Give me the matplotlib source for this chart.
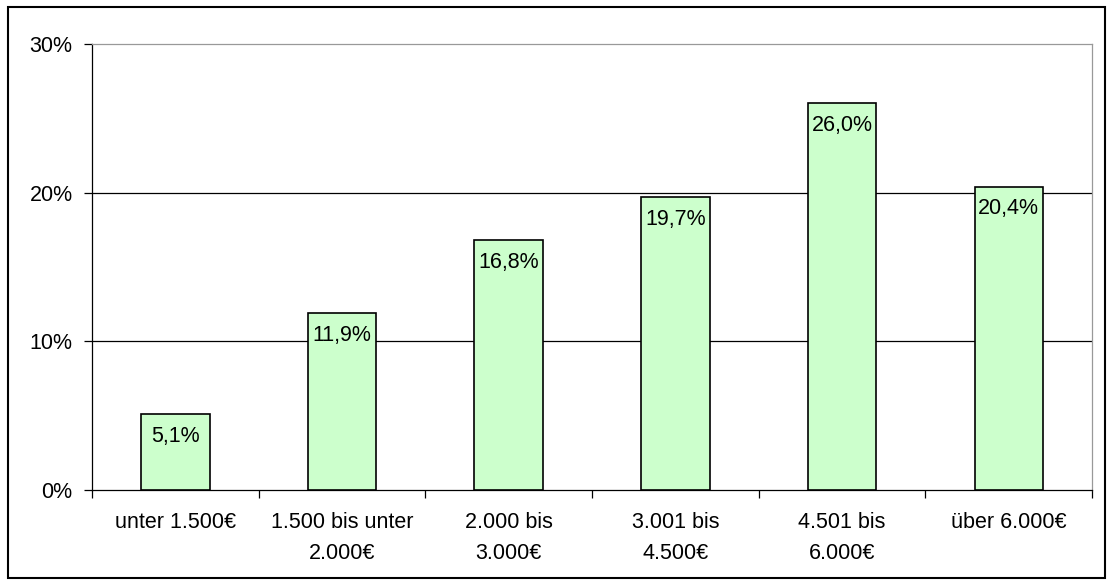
import matplotlib.pyplot as plt
from matplotlib.patches import Rectangle
import numpy as np

categories = ["unter 1.500€", "1.500 bis unter\n2.000€", "2.000 bis\n3.000€",
              "3.001 bis\n4.500€", "4.501 bis\n6.000€", "über 6.000€"]
values = [5.1, 11.9, 16.8, 19.7, 26.0, 20.4]
value_labels = ["5,1%", "11,9%", "16,8%", "19,7%", "26,0%", "20,4%"]
y_ticks = [0, 10, 20, 30]
y_tick_labels = ["0%", "10%", "20%", "30%"]

plt.rcParams["font.family"] = ["Liberation Sans", "DejaVu Sans"]
FS = 15.5

fig = plt.figure(figsize=(11.12, 5.85), dpi=100)
ax = fig.add_axes([92 / 1112, 1 - 490 / 585, 1000 / 1112, 446 / 585])

x = np.arange(len(categories))
ax.bar(x, values, width=0.41, color="#CCFFCC", edgecolor="black", linewidth=1.2, zorder=3)

for xi, v, lab in zip(x, values, value_labels):
    ax.annotate(lab, (xi, v), textcoords="offset pixels", xytext=(0, -22),
                ha="center", va="center", fontsize=FS, zorder=4)

for t in [10, 20]:
    ax.axhline(t, color="black", linewidth=0.9, zorder=1)

ax.set_xlim(-0.5, len(categories) - 0.5)
ax.set_ylim(0, 30)
ax.set_yticks(y_ticks)
ax.set_yticklabels(y_tick_labels, fontsize=FS)
ax.set_xticks(x)
ax.set_xticklabels(categories, fontsize=FS, linespacing=1.6)
ax.tick_params(axis="x", which="major", length=0, pad=16)
ax.set_xticks(np.arange(-0.5, len(categories), 1.0), minor=True)
ax.tick_params(axis="x", which="minor", length=6, width=0.9, direction="out")
ax.tick_params(axis="y", length=6, width=0.9, direction="out", pad=8)

ax.spines["left"].set_color("black")
ax.spines["bottom"].set_color("black")
ax.spines["top"].set_color("#999999")
ax.spines["right"].set_color("#999999")
for s in ax.spines.values():
    s.set_linewidth(0.9)

fig.patches.append(Rectangle((8 / 1112, 7 / 585), 1097 / 1112, 571 / 585,
                             transform=fig.transFigure, fill=False,
                             edgecolor="black", linewidth=1.5))

fig.savefig("out.png", dpi=100)
